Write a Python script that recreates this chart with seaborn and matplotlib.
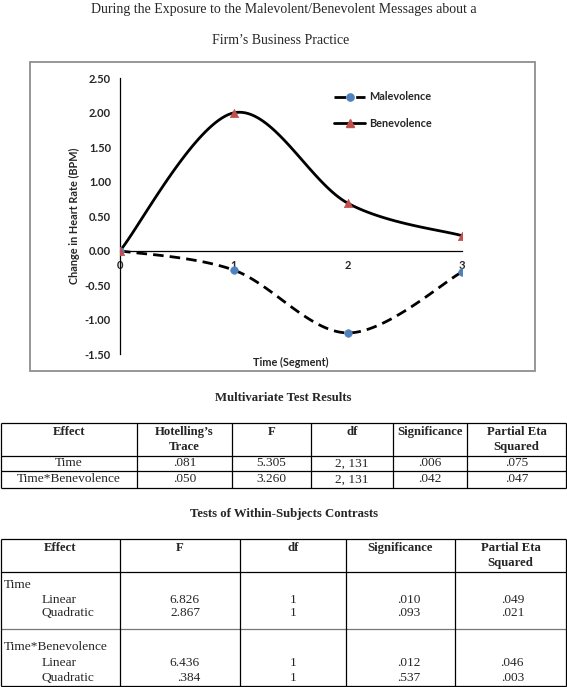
import numpy as np
import pandas as pd
import matplotlib
matplotlib.use("Agg")
import matplotlib.pyplot as plt
import seaborn as sns
from matplotlib.lines import Line2D
from matplotlib.patches import Rectangle
from matplotlib.ticker import FormatStrFormatter

# chart data (change in heart rate, BPM)
segments = [0, 1, 2, 3]
malevolence = [0.00, -0.28, -1.19, -0.31]
benevolence = [0.00, 2.00, 0.69, 0.22]
y_ticks = [-1.50, -1.00, -0.50, 0.00, 0.50, 1.00, 1.50, 2.00, 2.50]

# multivariate test table
mv_header = ["Effect", "Hotelling\u2019s\nTrace", "F", "df", "Significance", "Partial Eta\nSquared"]
mv_effect = ["Time", "Time*Benevolence"]
mv_trace = [".081", ".050"]
mv_f = ["5.305", "3.260"]
mv_df = ["2, 131", "2, 131"]
mv_sig = [".006", ".042"]
mv_eta = [".075", ".047"]

# within-subjects contrasts table
wc_header = ["Effect", "F", "df", "Significance", "Partial Eta\nSquared"]
wc_groups = ["Time", "Time*Benevolence"]
wc_contrast = ["Linear", "Quadratic", "Linear", "Quadratic"]
wc_f = ["6.826", "2.867", "6.436", ".384"]
wc_df = ["1", "1", "1", "1"]
wc_sig = [".010", ".093", ".012", ".537"]
wc_eta = [".049", ".021", ".046", ".003"]


def smooth(x, y, n=40):
    # excel style smoothed line through the points
    p = np.column_stack([x, y]).astype(float)
    ext = np.vstack([p[0], p, p[-1]])
    t = np.linspace(0, 1, n)[:, None]
    out = []
    for i in range(len(p) - 1):
        p0, p1 = p[i], p[i + 1]
        c1 = p0 + (ext[i + 2] - ext[i]) / 6
        c2 = p1 - (ext[i + 3] - ext[i + 1]) / 6
        seg = (1 - t) ** 3 * p0 + 3 * (1 - t) ** 2 * t * c1 + 3 * (1 - t) * t ** 2 * c2 + t ** 3 * p1
        out.append(seg if i == 0 else seg[1:])
    return np.vstack(out)


sns.set_style("white")
plt.rcParams["axes.unicode_minus"] = False
SANS = ["Lato", "DejaVu Sans"]
SERIF = ["Liberation Serif", "DejaVu Serif"]

W, H = 567, 687
fig = plt.figure(figsize=(W / 100, H / 100), dpi=100)

# main chart axes placed in pixel terms
x0, x3 = 120, 461.7
ytop, ybot = 78.3, 354.3
ax = fig.add_axes([x0 / W, 1 - ybot / H, (x3 - x0) / W, (ybot - ytop) / H])

mal_s = smooth(segments, malevolence)
ben_s = smooth(segments, benevolence)
mal_df = pd.DataFrame({"x": mal_s[:, 0], "y": mal_s[:, 1]})
ben_df = pd.DataFrame({"x": ben_s[:, 0], "y": ben_s[:, 1]})

blue = "#4F81BD"
red = "#C0504D"
dash = (3.8, 2.2)
lwc = 2.0

sns.lineplot(data=mal_df, x="x", y="y", sort=False, estimator=None, color="black", lw=lwc, ax=ax)
ax.lines[-1].set_dashes(dash)
sns.lineplot(data=ben_df, x="x", y="y", sort=False, estimator=None, color="black", lw=lwc, ax=ax)
sns.scatterplot(x=segments, y=malevolence, marker="o", color=blue, s=30, edgecolor=blue, zorder=5, ax=ax)
sns.scatterplot(x=segments, y=benevolence, marker="^", color=red, s=36, edgecolor=red, zorder=5, ax=ax)

ax.set_xlim(0, 3)
ax.set_ylim(-1.5, 2.5)
ax.set_xticks(segments)
ax.set_yticks(y_ticks)
ax.yaxis.set_major_formatter(FormatStrFormatter("%.2f"))
for s in ["top", "right"]:
    ax.spines[s].set_visible(False)
ax.spines["bottom"].set_position(("data", 0))
for s in ["left", "bottom"]:
    ax.spines[s].set_color("black")
    ax.spines[s].set_linewidth(0.9)
ax.tick_params(axis="both", direction="out", length=2.5, width=0.9, color="black",
               labelsize=8.0, pad=4.0)
for lbl in ax.get_xticklabels() + ax.get_yticklabels():
    lbl.set_fontweight("bold")
    lbl.set_family(SANS)

ax.set_xlabel("Time (Segment)", fontsize=7.8, fontweight="bold", family=SANS, va="center")
ax.xaxis.set_label_coords(0.5, -0.028)
ax.set_ylabel("Change in Heart Rate (BPM)", fontsize=7.8, fontweight="bold", family=SANS, va="center")
ax.yaxis.set_label_coords(-0.132, 0.5)

handles = [
    Line2D([], [], color="black", lw=lwc, dashes=(4.2, 3.6), marker="o", mfc=blue, mec=blue, ms=5.2),
    Line2D([], [], color="black", lw=lwc, marker="^", mfc=red, mec=red, ms=5.8),
]
leg = fig.legend(handles, ["Malevolence", "Benevolence"], loc="center left",
                 bbox_to_anchor=(334 / W, 1 - 110 / H), frameon=False, handlelength=2.9,
                 handletextpad=0.3, labelspacing=1.4, borderpad=0, borderaxespad=0,
                 prop={"family": SANS, "weight": "bold", "size": 7.8})

# overlay axes in pixel coordinates for frame, titles and tables
axt = fig.add_axes([0, 0, 1, 1], zorder=-1)
axt.set_xlim(0, W)
axt.set_ylim(H, 0)
axt.axis("off")

axt.add_patch(Rectangle((30, 62), 505, 309, fill=False, edgecolor="#8f8f8f", lw=1.3))

tfs = 10.0
axt.text(283.5, 9, "During the Exposure to the Malevolent/Benevolent Messages about a",
         ha="center", va="center", fontsize=tfs, family=SERIF)
axt.text(281, 40, "Firm\u2019s Business Practice", ha="center", va="center", fontsize=tfs, family=SERIF)

fs = 9.6
hfs = 9.2
lw = 0.9

# table 1
axt.text(283.5, 398, "Multivariate Test Results", ha="center", va="center", fontsize=hfs,
         fontweight="bold", family=SERIF)
c1 = [1, 137, 232, 311, 393, 467, 566]
r1 = [423, 456, 471, 488]
axt.hlines(r1, c1[0], c1[-1], color="black", lw=lw)
axt.vlines(c1, r1[0], r1[-1], color="black", lw=lw)
for j, h in enumerate(mv_header):
    axt.text((c1[j] + c1[j + 1]) / 2, 426, h, ha="center", va="top", fontsize=hfs,
             fontweight="bold", family=SERIF, linespacing=1.3)
cols = [mv_effect, mv_trace, mv_f, mv_df, mv_sig, mv_eta]
for i in range(len(mv_effect)):
    yc = (r1[i + 1] + r1[i + 2]) / 2
    for j, col in enumerate(cols):
        axt.text((c1[j] + c1[j + 1]) / 2, yc, col[i], ha="center", va="center",
                 fontsize=fs, family=SERIF)

# table 2
axt.text(283.5, 514, "Tests of Within-Subjects Contrasts", ha="center", va="center",
         fontsize=hfs, fontweight="bold", family=SERIF)
c2 = [1, 120, 240, 346, 455, 566]
r2 = [539, 572, 629, 686]
axt.hlines([r2[0], r2[1], r2[3]], c2[0], c2[-1], color="black", lw=lw)
axt.hlines(r2[2], c2[0], c2[-1], color="#777777", lw=lw)
axt.vlines(c2, r2[0], r2[-1], color="black", lw=lw)
for j, h in enumerate(wc_header):
    axt.text((c2[j] + c2[j + 1]) / 2, 542, h, ha="center", va="top", fontsize=hfs,
             fontweight="bold", family=SERIF, linespacing=1.3)
group_y = [585, 647]
sub_y = [600, 613, 663, 678]
for g, yy in zip(wc_groups, group_y):
    axt.text(4, yy, g, ha="left", va="center", fontsize=fs, family=SERIF)
for i in range(len(wc_contrast)):
    yy = sub_y[i]
    axt.text(42, yy, wc_contrast[i], ha="left", va="center", fontsize=fs, family=SERIF)
    axt.text(200, yy, wc_f[i], ha="right", va="center", fontsize=fs, family=SERIF)
    axt.text(293, yy, wc_df[i], ha="center", va="center", fontsize=fs, family=SERIF)
    axt.text(420, yy, wc_sig[i], ha="right", va="center", fontsize=fs, family=SERIF)
    axt.text(524, yy, wc_eta[i], ha="right", va="center", fontsize=fs, family=SERIF)

fig.savefig("out.png", dpi=100)
